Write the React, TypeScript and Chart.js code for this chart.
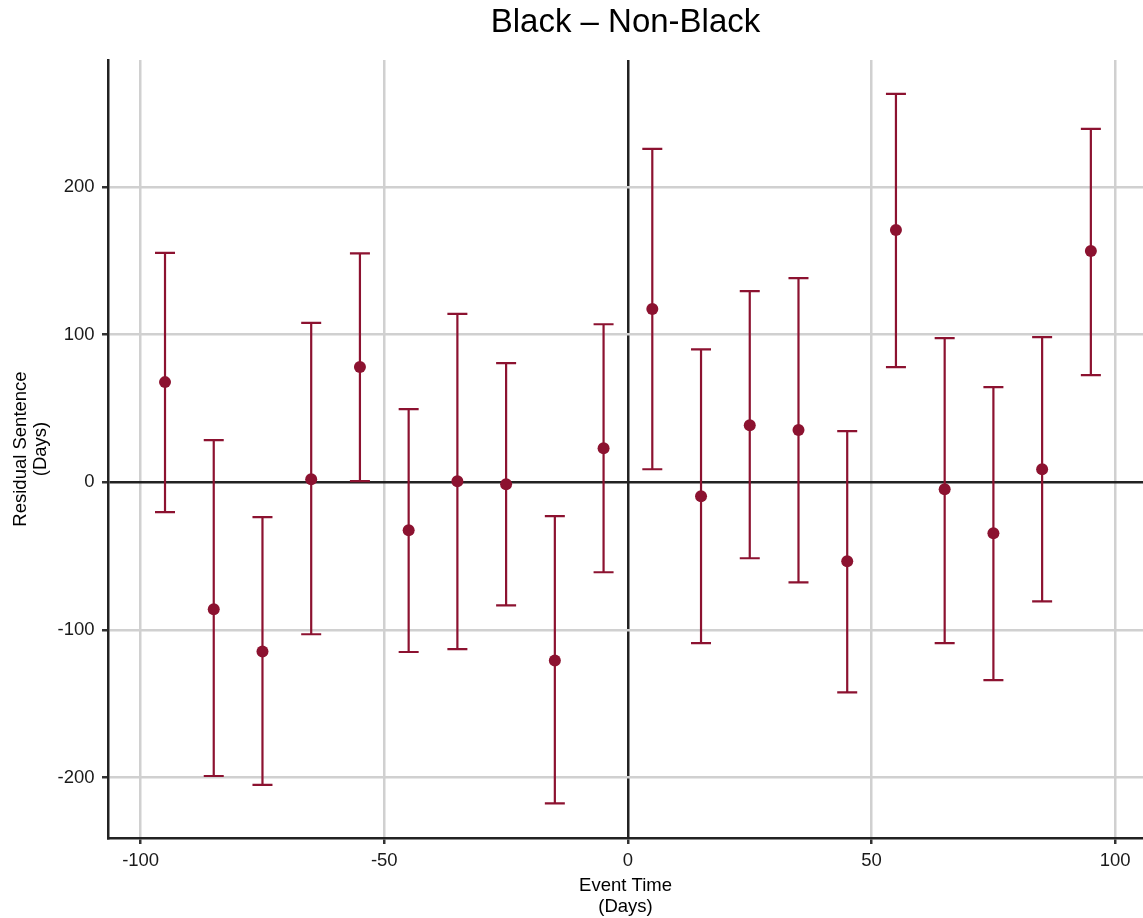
import React, { useEffect, useRef } from "react";
import { Chart, registerables } from "chart.js";

Chart.register(...registerables);

const eventTimes = [-95, -85, -75, -65, -55, -45, -35, -25, -15, -5, 5, 15, 25, 35, 45, 55, 65, 75, 85, 95];
const estimates = [67.8, -86, -114.6, 2, 78, -32.5, 0.7, -1.4, -120.7, 23, 117.3, -9.5, 38.6, 35.3, -53.6, 170.8, -4.7, -34.6, 8.8, 156.6];
const lowerBounds = [-20.3, -199, -205, -103, 0.7, -115, -113, -83.4, -217.6, -61, 8.8, -109, -51.5, -67.8, -142.4, 78, -109, -134, -80.7, 72.5];
const upperBounds = [155.3, 28.5, -23.7, 108, 155, 49.5, 114, 80.7, -23, 107, 225.8, 90, 129.5, 138.3, 34.6, 263, 97.6, 64.4, 98.3, 239.3];
const xTickValues = [-100, -50, 0, 50, 100];
const yTickValues = [-200, -100, 0, 100, 200];

const MAROON = "#8c1230";
const FONT = "'Liberation Sans', Arial, Helvetica, sans-serif";

const errorBarPlugin = {
  id: "errorBars",
  beforeDatasetsDraw(chart: any) {
    const { ctx, scales } = chart;
    const xs = scales.x;
    const ys = scales.y;
    ctx.save();
    ctx.strokeStyle = MAROON;
    ctx.lineWidth = 2.2;
    const half = 10;
    for (let i = 0; i < eventTimes.length; i++) {
      const px = xs.getPixelForValue(eventTimes[i]);
      const lo = ys.getPixelForValue(lowerBounds[i]);
      const hi = ys.getPixelForValue(upperBounds[i]);
      ctx.beginPath();
      ctx.moveTo(px, lo);
      ctx.lineTo(px, hi);
      ctx.moveTo(px - half, lo);
      ctx.lineTo(px + half, lo);
      ctx.moveTo(px - half, hi);
      ctx.lineTo(px + half, hi);
      ctx.stroke();
    }
    ctx.restore();
  },
};

export default function App() {
  const canvasRef = useRef<HTMLCanvasElement | null>(null);

  useEffect(() => {
    if (!canvasRef.current) return;
    const chart = new Chart(canvasRef.current, {
      type: "scatter",
      data: {
        datasets: [
          {
            data: eventTimes.map((x, i) => ({ x, y: estimates[i] })),
            backgroundColor: MAROON,
            borderColor: MAROON,
            pointRadius: 6,
            pointBorderWidth: 0,
          },
        ],
      },
      plugins: [errorBarPlugin],
      options: {
        responsive: false,
        animation: false,
        layout: { padding: 0, autoPadding: false },
        plugins: {
          legend: { display: false },
          tooltip: { enabled: false },
          title: {
            display: true,
            text: "Black – Non-Black",
            fullSize: false,
            color: "#000",
            font: { family: FONT, size: 33, weight: "normal", lineHeight: 1.2 },
            padding: { top: 3, bottom: 17.4 },
          },
        },
        scales: {
          x: {
            type: "linear",
            min: -106.7,
            max: 105.7,
            afterBuildTicks: (scale: any) => {
              scale.ticks = xTickValues.map((v) => ({ value: v }));
            },
            afterFit: (scale: any) => {
              scale.height = 80;
              scale.paddingLeft = 0;
              scale.paddingRight = 0;
            },
            grid: {
              color: (c: any) => (c.tick && c.tick.value === 0 ? "#222" : "#d0d0d0"),
              lineWidth: 2.5,
              drawTicks: true,
              tickLength: 6,
              tickColor: "#333",
              tickWidth: 2.5,
            },
            border: { display: true, color: "#222", width: 2.5 },
            ticks: {
              color: "#1a1a1a",
              padding: 6,
              font: { family: FONT, size: 18.5 },
              callback: (v: any) => String(v),
            },
            title: {
              display: true,
              text: ["Event Time", "(Days)"],
              color: "#000",
              font: { family: FONT, size: 18.5, lineHeight: 21 / 18.5 },
              padding: { top: 0, bottom: 1 },
            },
          },
          y: {
            type: "linear",
            min: -241,
            max: 286,
            afterBuildTicks: (scale: any) => {
              scale.ticks = yTickValues.map((v) => ({ value: v }));
            },
            afterFit: (scale: any) => {
              scale.width = 108;
              scale.paddingTop = 0;
              scale.paddingBottom = 0;
            },
            grid: {
              color: (c: any) => (c.tick && c.tick.value === 0 ? "#222" : "#d0d0d0"),
              lineWidth: 2.5,
              drawTicks: true,
              tickLength: 6,
              tickColor: "#333",
              tickWidth: 2.5,
            },
            border: { display: true, color: "#222", width: 2.5 },
            ticks: {
              color: "#1a1a1a",
              padding: 7.5,
              font: { family: FONT, size: 18.5 },
              callback: (v: any) => String(v),
            },
            title: {
              display: true,
              text: ["Residual Sentence", "(Days)"],
              color: "#000",
              font: { family: FONT, size: 18.5, lineHeight: 20 / 18.5 },
              padding: { top: 10.5, bottom: 0 },
            },
          },
        },
      },
    } as any);
    return () => chart.destroy();
  }, []);

  return (
    <div style={{ position: "absolute", left: 0, top: 0, width: 1143, height: 918, background: "#fff" }}>
      <canvas ref={canvasRef} width={1143} height={918} style={{ width: 1143, height: 918 }} />
    </div>
  );
}
